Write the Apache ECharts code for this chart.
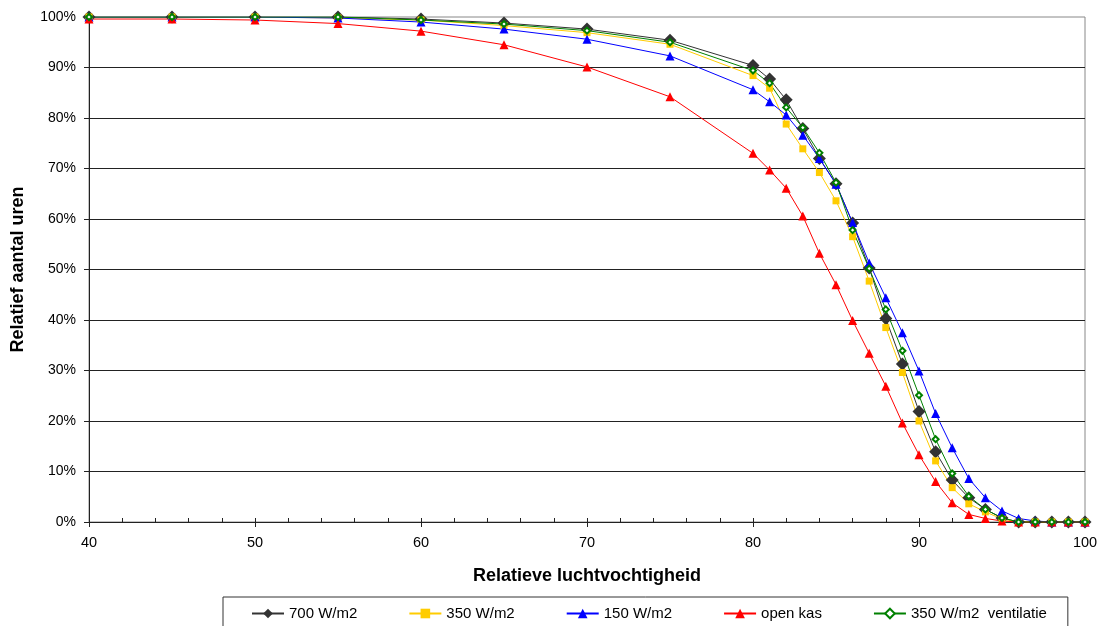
<!DOCTYPE html>
<html>
<head>
<meta charset="utf-8">
<script src="https://cdn.jsdelivr.net/npm/echarts@6/dist/echarts.min.js"></script>
<style>
html,body{margin:0;padding:0;background:#fff;}
#c{width:1105px;height:626px;}
</style>
</head>
<body>
<div id="c"></div>
<script>
// Data
var xValues = [40,45,50,55,60,65,70,75,80,81,82,83,84,85,86,87,88,89,90,91,92,93,94,95,96,97,98,99,100];
var seriesNames = ['700 W/m2','350 W/m2','150 W/m2','open kas','350 W/m2  ventilatie'];
var w700 = [100,100,100,100,99.6,98.8,97.6,95.4,90.4,87.7,83.6,77.9,72.0,67.0,59.2,50.3,40.3,31.3,21.9,13.9,8.3,4.8,2.5,0.8,0,0,0,0,0];
var w350 = [100,100,100,99.8,99.4,98.3,96.9,94.6,88.4,85.9,78.8,73.9,69.2,63.6,56.5,47.7,38.5,29.6,20.0,12.1,6.8,3.6,2.0,0.6,0,0,0,0,0];
var w150 = [100,100,100,99.8,99.0,97.6,95.6,92.3,85.6,83.2,80.6,76.6,72.0,66.9,59.3,51.3,44.4,37.5,29.9,21.5,14.7,8.6,4.8,2.2,0.7,0.2,0,0,0];
var openKas = [99.6,99.6,99.4,98.7,97.2,94.5,90.1,84.2,73.0,69.7,66.1,60.6,53.2,47.0,39.9,33.4,26.9,19.6,13.3,8.0,3.8,1.5,0.7,0.2,0,0,0,0,0];
var w350vent = [100,100,100,100,99.4,98.6,97.3,95.0,89.4,86.9,82.1,78.1,73.1,67.2,57.8,50.2,42.1,33.9,25.1,16.4,9.6,5.1,2.5,0.8,0,0,0,0,0];
var xTitle = 'Relatieve luchtvochtigheid';
var yTitle = 'Relatief aantal uren';

function pairs(vals){ return xValues.map(function(x,i){ return [x, vals[i]]; }); }

var FONT = "'Liberation Sans', Arial, sans-serif";
var chart = echarts.init(document.getElementById('c'), null, {renderer:'canvas'});

function mk(name, vals, color, symbol, size, extra){
  var s = {
    name: name, type: 'line', data: pairs(vals), xAxisIndex: 0,
    symbol: symbol, symbolSize: size,
    lineStyle: {color: color, width: 1},
    itemStyle: {color: color},
    emphasis: {disabled: true},
    z: 3
  };
  if (extra) Object.assign(s, extra);
  return s;
}

var option = {
  animation: false,
  backgroundColor: '#fff',
  textStyle: {fontFamily: FONT},
  grid: {left: 89, right: 20, top: 17, bottom: 104, show: true, borderColor: '#888', borderWidth: 1},
  xAxis: [{
    type: 'value', min: 40, max: 100, interval: 10,
    name: xTitle, nameLocation: 'middle', nameGap: 45,
    nameTextStyle: {fontFamily: FONT, fontSize: 18, fontWeight: 'bold', color: '#000'},
    axisLine: {show: true, lineStyle: {color: '#222', width: 1}},
    axisTick: {show: true, inside: true, length: 4, lineStyle: {color: '#222'}},
    minorTick: {show: true, splitNumber: 5, length: 4, lineStyle: {color: '#222'}},
    axisLabel: {fontFamily: FONT, fontSize: 14.5, color: '#000', margin: 13},
    splitLine: {show: false}
  },{
    type: 'value', min: 40, max: 100, interval: 10, position: 'bottom',
    axisLine: {show: false},
    axisTick: {show: true, inside: false, length: 5, lineStyle: {color: '#222'}},
    axisLabel: {show: false},
    splitLine: {show: false}
  }],
  yAxis: {
    type: 'value', min: 0, max: 100, interval: 10,
    name: yTitle, nameLocation: 'middle', nameGap: 62, nameRotate: 90,
    nameTextStyle: {fontFamily: FONT, fontSize: 18, fontWeight: 'bold', color: '#000'},
    axisLine: {show: true, lineStyle: {color: '#222', width: 1}},
    axisTick: {show: true, inside: false, length: 5, lineStyle: {color: '#222'}},
    axisLabel: {fontFamily: FONT, fontSize: 14, color: '#000', margin: 13, formatter: '{value}%'},
    splitLine: {show: true, showMaxLine: false, lineStyle: {color: '#222', width: 1}}
  },
  legend: {
    left: 223, top: 597,
    data: seriesNames,
    itemWidth: 32, itemHeight: 12, itemGap: 51,
    padding: [9, 21, 9, 28],
    borderColor: '#333', borderWidth: 1,
    textStyle: {fontFamily: FONT, fontSize: 15, color: '#000'},
    selectedMode: false
  },
  series: [
    mk(seriesNames[0], w700, '#333333', 'diamond', 13),
    mk(seriesNames[1], w350, '#FFCC00', 'rect', 7),
    mk(seriesNames[2], w150, '#0000FF', 'triangle', 9),
    mk(seriesNames[3], openKas, '#FF0000', 'triangle', 9),
    mk(seriesNames[4], w350vent, '#008000', 'emptyDiamond', 6, {itemStyle: {color: '#008000', borderWidth: 1}})
  ]
};
chart.setOption(option);
</script>
</body>
</html>
